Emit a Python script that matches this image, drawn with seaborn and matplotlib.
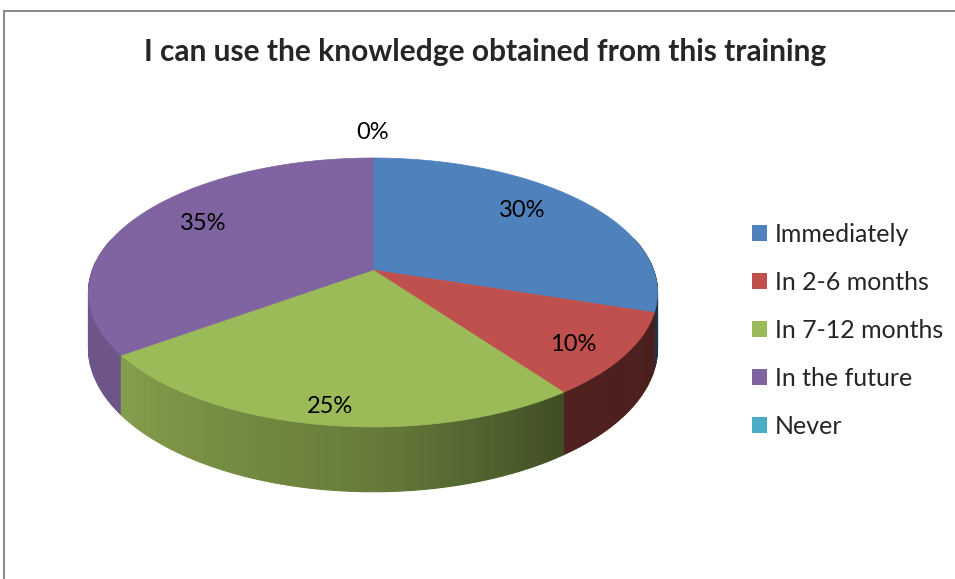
import numpy as np
import matplotlib
matplotlib.use("Agg")
import matplotlib.pyplot as plt
from matplotlib.patches import Polygon, Patch
import seaborn as sns

# data
categories = ["Immediately", "In 2-6 months", "In 7-12 months", "In the future", "Never"]
shares = [30, 10, 25, 35, 0]
pct_labels = ["30%", "10%", "25%", "35%", "0%"]
title = "I can use the knowledge obtained from this training"

sns.set_style("white")
plt.rcParams["font.family"] = ["Lato", "DejaVu Sans"]
palette = sns.color_palette(["#4f81bd", "#c0504d", "#9bbb59", "#8064a2", "#4bacc6"])

W, H = 955, 579
fig = plt.figure(figsize=(W / 100, H / 100), dpi=100)
ax = fig.add_axes([0, 0, 1, 1])
ax.set_xlim(0, W)
ax.set_ylim(H, 0)
ax.axis("off")

# chart area border (cut off at right/bottom like the screenshot)
ax.plot([3.5, 3.5, W], [H, 10.5, 10.5], color="#8c8c8c", lw=1.5, solid_capstyle="butt")

# geometry of the tilted pie, in screen pixels
cx, cy = 373, 270
R, k, p, depth = 280.5, 0.466, 0.167, 54


def proj(theta, r=1.0, drop=0.0, rx=None, ry=None):
    rx = r if rx is None else rx
    ry = r if ry is None else ry
    w = 1 + p * ry * np.cos(theta)
    x = cx + R * rx * np.sin(theta) / w
    y = cy - R * k * ry * np.cos(theta) / w + drop / w
    return x, y


# side shading as a function of angle (deg, clockwise from top)
shade_t = [0, 60, 110, 144, 180, 234, 270, 300, 360]
shade_f = [0.4, 0.38, 0.39, 0.41, 0.66, 0.85, 0.86, 0.86, 0.4]

total = sum(shares)
starts = np.cumsum([0] + shares[:-1]) / total * 2 * np.pi
ends = np.cumsum(shares) / total * 2 * np.pi

# side wall, back to front
quads = []
for s, e, col in zip(starts, ends, palette):
    if e <= s:
        continue
    n = max(int(np.degrees(e - s)), 2)
    th = np.linspace(s, e, n + 1)
    for a, b in zip(th[:-1], th[1:]):
        m = (a + b) / 2
        if np.cos(m) > 0.25:
            continue
        f = np.interp(np.degrees(m), shade_t, shade_f)
        c = tuple(np.clip(np.array(col) * f, 0, 1))
        x1, y1 = proj(a)
        x2, y2 = proj(b)
        x3, y3 = proj(b, drop=depth)
        x4, y4 = proj(a, drop=depth)
        quads.append((-np.cos(m), [(x1, y1), (x2, y2), (x3, y3), (x4, y4)], c))
quads.sort(key=lambda q: q[0])
for _, pts, c in quads:
    ax.add_patch(Polygon(pts, closed=True, facecolor=c, edgecolor=c, lw=0.8))

# top face
for s, e, col in zip(starts, ends, palette):
    if e <= s:
        continue
    th = np.linspace(s, e, 200)
    xs, ys = proj(th)
    pts = [(cx, cy)] + list(zip(xs, ys))
    ax.add_patch(Polygon(pts, closed=True, facecolor=col, edgecolor=col, lw=0.5))

# percentage labels
for s, e, lab, v in zip(starts, ends, pct_labels, shares):
    m = (s + e) / 2
    if v > 0:
        lx, ly = proj(m, rx=0.76 - 0.08 * np.cos(m), ry=0.86 - 0.04 * np.cos(m))
    else:
        lx, ly = proj(m, r=1.28)
    ax.text(lx, ly, lab, ha="center", va="center", fontsize=17, color="black")

ax.text(485, 52, title, ha="center", va="center", fontsize=21.5, fontweight="bold")

handles = [Patch(facecolor=c, edgecolor="none") for c in palette]
ax.legend(handles, categories, loc="upper left", bbox_to_anchor=(752 / W, 1 - 223 / H),
          frameon=False, fontsize=18, handlelength=0.6, handleheight=0.6,
          handletextpad=0.3, labelspacing=1.0, borderpad=0, borderaxespad=0)

fig.savefig("out.png", dpi=100)
